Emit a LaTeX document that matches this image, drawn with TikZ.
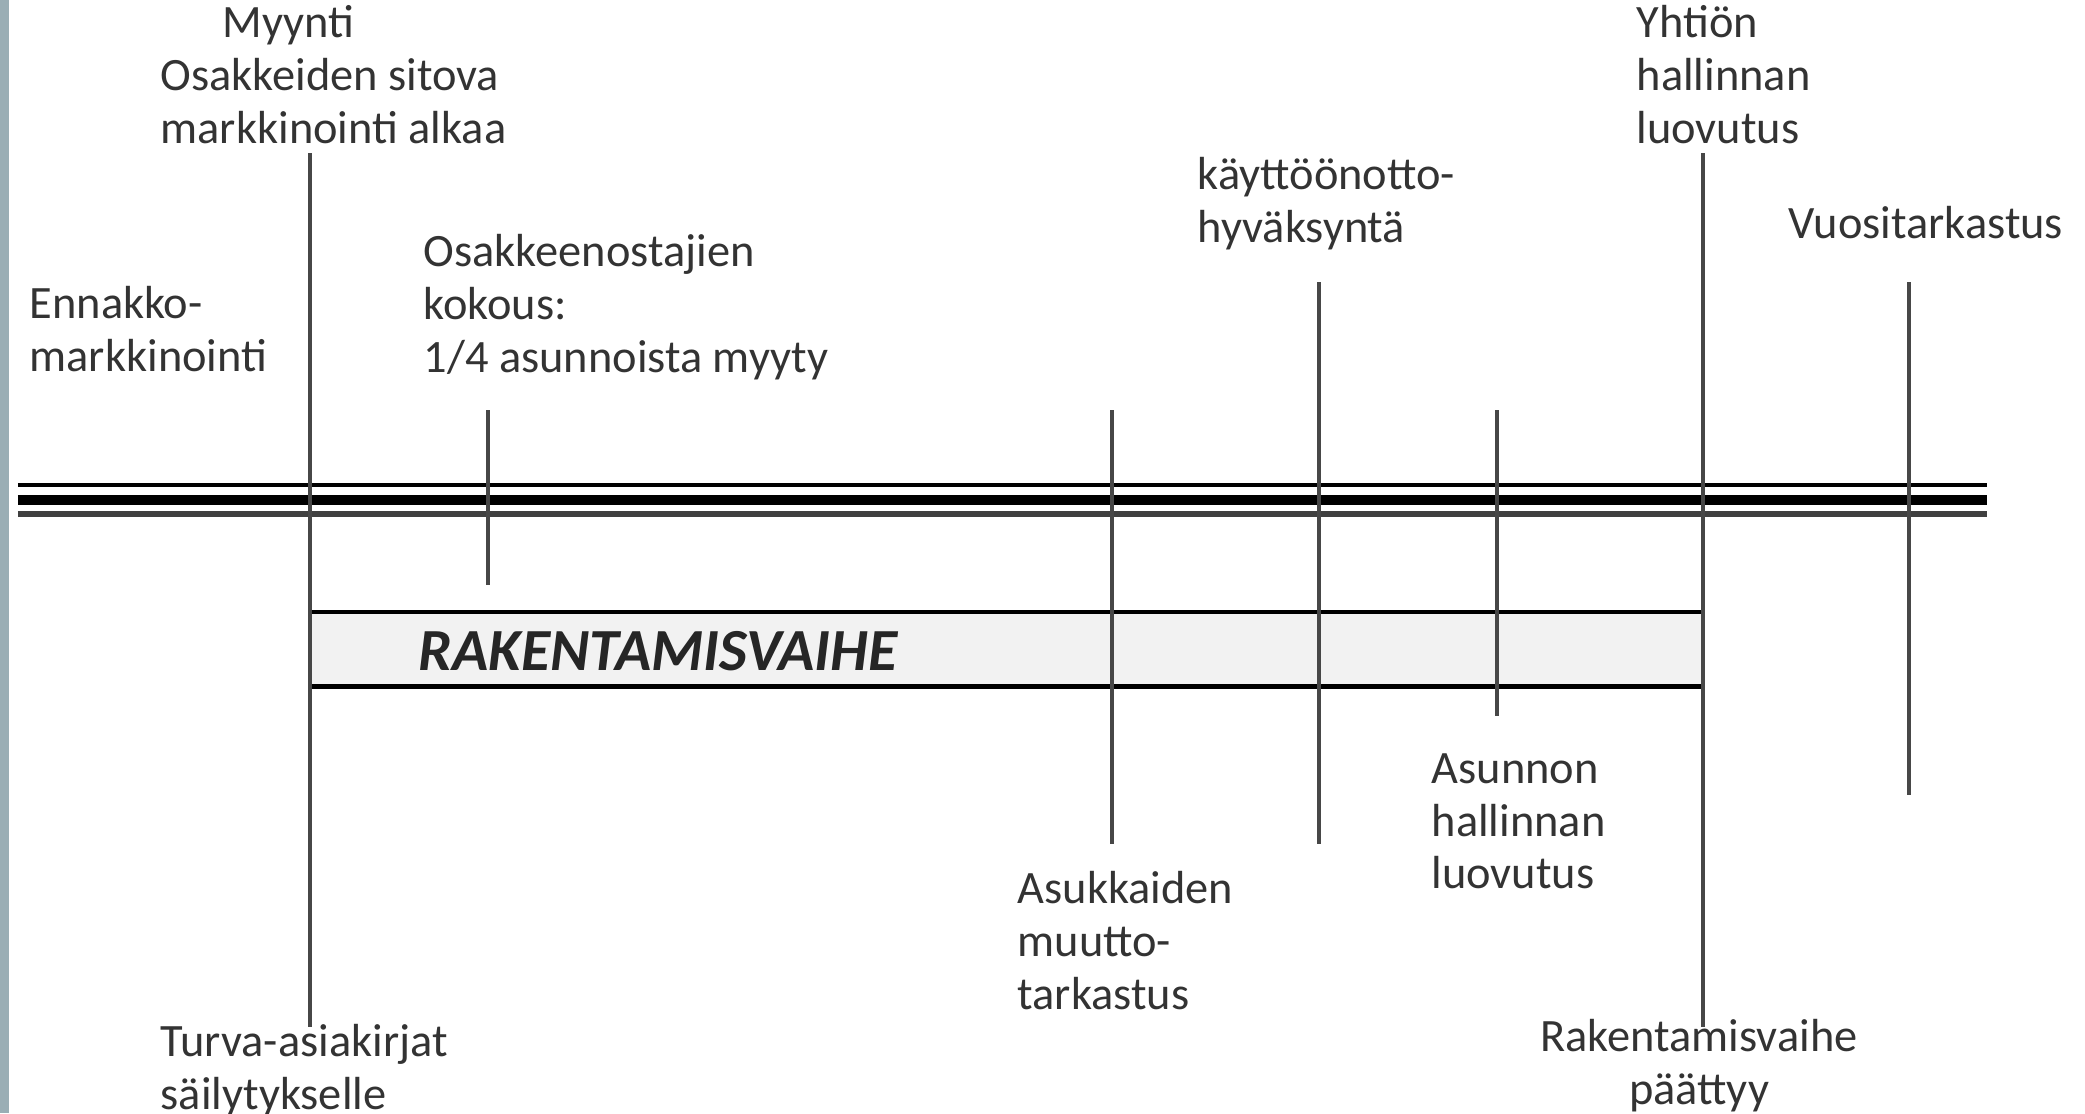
\documentclass[tikz,border=0pt]{standalone}
\usepackage{fontspec}
\setmainfont{Carlito}
\definecolor{sidebar}{HTML}{9AAEB5}
\definecolor{barfill}{HTML}{F2F2F2}
\begin{document}
\begin{tikzpicture}[font=\fontsize{13.2}{15}\selectfont,
  lbl/.style={anchor=north west,align=left,inner sep=0pt,text=black!80},
  vmark/.style={draw=black!72,line width=1.1pt},
  rail/.style={draw=black,line width=#1}]
  \useasboundingbox (0,0) rectangle (20.85,-11.13);
  \fill[sidebar] (0,0) rectangle (0.09,-11.13);
  % construction phase bar
  \node[fill=barfill,minimum width=13.93cm,minimum height=0.73cm,inner sep=0pt] (rak) at (10.065,-6.492){};
  \draw[line width=1.2pt] (rak.north west) -- (rak.north east);
  \draw[line width=1.2pt] (rak.south west) -- (rak.south east);
  \node[anchor=west,inner sep=0pt,font=\fontsize{17}{20}\selectfont\bfseries\itshape,text=black!85] (raktxt) at (4.18,-6.51){RAKENTAMISVAIHE};
  % time axis
  \coordinate (rw) at (0.18,-5.0);
  \coordinate (re) at (19.87,-5.0);
  \draw[rail=1.4pt] ([yshift=1.5mm]rw) -- ([yshift=1.5mm]re);
  \draw[rail=2.8pt] (rw) -- (re);
  \draw[rail=1.7pt,draw=black!75] ([yshift=-1.4mm]rw) -- ([yshift=-1.4mm]re);
  % milestones
  \coordinate (m1t) at (3.10,-1.53);  \coordinate (m1b) at (3.10,-10.27);
  \coordinate (m2t) at (4.88,-4.10);  \coordinate (m2b) at (4.88,-5.85);
  \coordinate (m3t) at (11.12,-4.10); \coordinate (m3b) at (11.12,-8.44);
  \coordinate (m4t) at (13.19,-2.82); \coordinate (m4b) at (13.19,-8.44);
  \coordinate (m5t) at (14.97,-4.10); \coordinate (m5b) at (14.97,-7.16);
  \coordinate (m6t) at (17.03,-1.53); \coordinate (m6b) at (17.03,-10.27);
  \coordinate (m7t) at (19.09,-2.82); \coordinate (m7b) at (19.09,-7.95);
  \foreach \i in {1,...,7} \draw[vmark] (m\i t) -- (m\i b);
  % labels
  \node[lbl] (myynti) at (1.60,-0.05){\hspace*{0.62cm}Myynti\\Osakkeiden sitova\\markkinointi alkaa};
  \node[lbl] (ennakko) at (0.29,-2.86){Ennakko-\\markkinointi};
  \node[lbl] (kokous) at (4.23,-2.34){Osakkeenostajien\\kokous:\\1/4 asunnoista myyty};
  \node[lbl] (kaytto) at (11.97,-1.57){käyttöönotto-\\hyväksyntä};
  \node[lbl] (yhtio) at (16.36,-0.05){Yhtiön\\hallinnan\\luovutus};
  \node[lbl] (vuosi) at (17.88,-2.06){Vuositarkastus};
  \node[lbl] (muutto) at (10.17,-8.71){Asukkaiden\\muutto-\\tarkastus};
  \node[lbl] (asunto) at (14.31,-7.53){Asunnon\\hallinnan\\luovutus};
  \node[lbl] (turva) at (1.60,-10.24){Turva-asiakirjat\\säilytykselle};
  \node[lbl,anchor=north,align=center] (paattyy) at (16.99,-10.19){Rakentamisvaihe\\päättyy};
\end{tikzpicture}
\end{document}
